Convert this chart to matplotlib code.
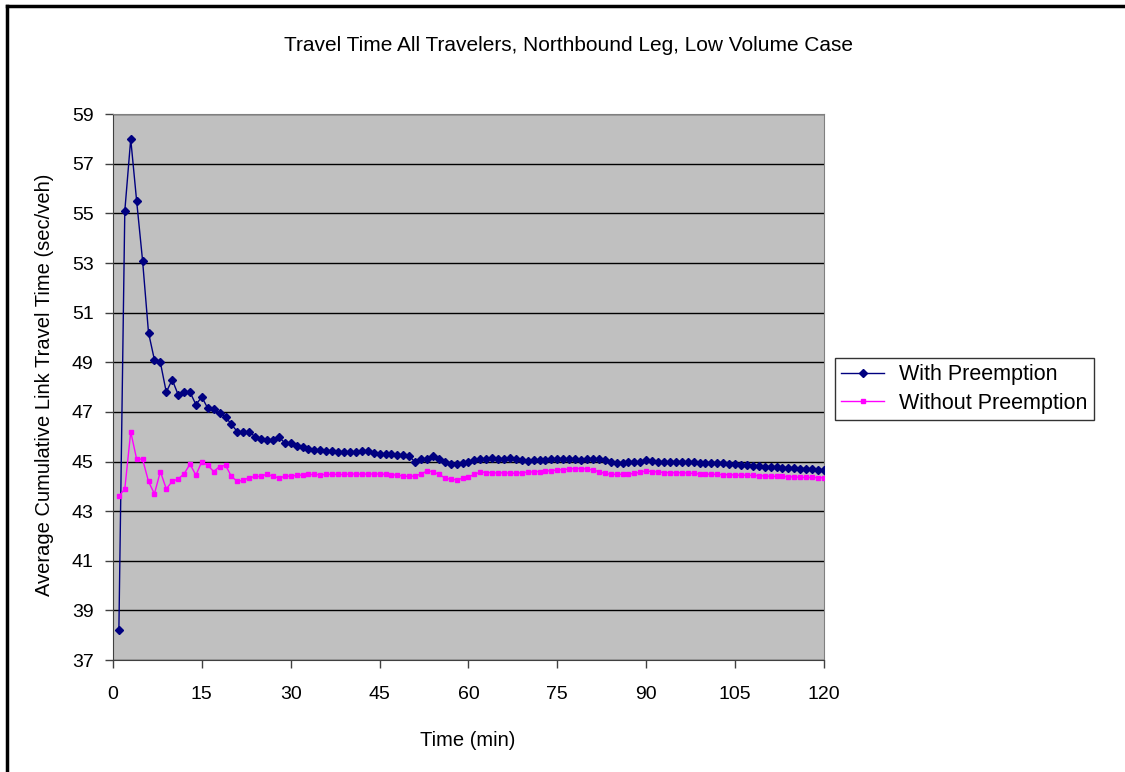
import matplotlib
matplotlib.use("Agg")
import matplotlib.pyplot as plt
from matplotlib.lines import Line2D

plt.rcParams['font.family'] = ['Liberation Sans', 'DejaVu Sans']

minutes = list(range(1, 121))

with_preemption = [
    38.2, 55.1, 58.0, 55.5, 53.1, 50.2, 49.1, 49.0, 47.8, 48.3,
    47.7, 47.8, 47.8, 47.3, 47.6, 47.15, 47.1, 46.95, 46.8, 46.5,
    46.2, 46.2, 46.2, 46.0, 45.9, 45.85, 45.85, 46.0, 45.75, 45.75,
    45.62, 45.58, 45.5, 45.46, 45.45, 45.43, 45.42, 45.4, 45.39, 45.38,
    45.4, 45.41, 45.42, 45.36, 45.31, 45.3, 45.29, 45.28, 45.25, 45.22,
    44.98, 45.1, 45.12, 45.22, 45.1, 45.0, 44.92, 44.9, 44.95, 44.98,
    45.05, 45.12, 45.1, 45.13, 45.12, 45.1, 45.14, 45.1, 45.06, 45.04,
    45.05, 45.06, 45.08, 45.1, 45.09, 45.1, 45.12, 45.1, 45.08, 45.1,
    45.11, 45.1, 45.06, 44.98, 44.93, 44.95, 44.97, 44.98, 45.0, 45.06,
    45.02, 45.0, 44.99, 45.0, 45.0, 45.0, 44.98, 44.97, 44.96, 44.96,
    44.95, 44.96, 44.93, 44.9, 44.9, 44.88, 44.86, 44.84, 44.82, 44.8,
    44.8, 44.78, 44.76, 44.76, 44.74, 44.72, 44.72, 44.7, 44.68, 44.66,
]

without_preemption = [
    43.6, 43.9, 46.2, 45.1, 45.1, 44.2, 43.7, 44.6, 43.9, 44.2,
    44.3, 44.5, 44.9, 44.45, 45.0, 44.85, 44.6, 44.8, 44.85, 44.4,
    44.2, 44.25, 44.35, 44.4, 44.4, 44.5, 44.4, 44.35, 44.4, 44.42,
    44.44, 44.46, 44.48, 44.48, 44.47, 44.48, 44.49, 44.48, 44.48, 44.5,
    44.5, 44.49, 44.5, 44.5, 44.5, 44.49, 44.47, 44.45, 44.42, 44.4,
    44.42, 44.5, 44.62, 44.6, 44.48, 44.35, 44.28, 44.27, 44.32, 44.38,
    44.48, 44.58, 44.56, 44.55, 44.54, 44.55, 44.53, 44.53, 44.55, 44.57,
    44.59, 44.6, 44.62, 44.63, 44.66, 44.68, 44.7, 44.72, 44.72, 44.7,
    44.66, 44.6, 44.52, 44.49, 44.48, 44.49, 44.5, 44.52, 44.58, 44.62,
    44.6, 44.58, 44.56, 44.55, 44.55, 44.55, 44.54, 44.52, 44.5, 44.5,
    44.49, 44.48, 44.47, 44.47, 44.46, 44.45, 44.45, 44.44, 44.43, 44.42,
    44.41, 44.4, 44.4, 44.39, 44.38, 44.37, 44.36, 44.36, 44.35, 44.35,
]

x_ticks = [0, 15, 30, 45, 60, 75, 90, 105, 120]
y_ticks = [37, 39, 41, 43, 45, 47, 49, 51, 53, 55, 57, 59]

fig = plt.figure(figsize=(11.25, 7.72), dpi=100)
ax = fig.add_axes([0.1004, 0.145, 0.632, 0.707])
ax.set_facecolor('#c0c0c0')

ax.plot(minutes, with_preemption, color='#000080', lw=1, marker='D',
        markersize=4, label='With Preemption', zorder=3)
ax.plot(minutes, without_preemption, color='#ff00ff', lw=1, marker='s',
        markersize=3.5, label='Without Preemption', zorder=3)

ax.set_xlim(0, 120)
ax.set_ylim(37, 59)
ax.set_xticks(x_ticks)
ax.set_yticks(y_ticks)
ax.yaxis.grid(True, color='black', lw=1)
ax.set_axisbelow(True)
ax.tick_params(axis='both', direction='out', length=6, width=1,
               colors='#404040', labelcolor='black', labelsize=14)
ax.tick_params(axis='x', pad=13)
ax.tick_params(axis='y', pad=8)
for s in ['top', 'right']:
    ax.spines[s].set_color('#808080')
for s in ['left', 'bottom']:
    ax.spines[s].set_color('#404040')

fig.text(0.505, 0.941, 'Travel Time All Travelers, Northbound Leg, Low Volume Case',
         ha='center', va='center', fontsize=15)
fig.text(0.416, 0.041, 'Time (min)', ha='center', va='center', fontsize=14.5)
fig.text(0.04, 0.501, 'Average Cumulative Link Travel Time (sec/veh)',
         ha='center', va='center', rotation=90, fontsize=14.5)

leg = ax.legend(loc='center left', bbox_to_anchor=(0.742, 0.496),
                bbox_transform=fig.transFigure, frameon=True, fancybox=False,
                fontsize=15.5, handlelength=2.0, handletextpad=0.7,
                borderpad=0.3, labelspacing=0.35, borderaxespad=0)
leg.get_frame().set_edgecolor('black')
leg.get_frame().set_linewidth(1)

# outer border (only top and left are visible in the source)
fig.add_artist(Line2D([6.5 / 1125, 1], [1 - 5.5 / 772, 1 - 5.5 / 772],
                      transform=fig.transFigure, color='black', lw=2.5))
fig.add_artist(Line2D([6.5 / 1125, 6.5 / 1125], [0, 1 - 5.5 / 772],
                      transform=fig.transFigure, color='black', lw=2.5))

fig.savefig('out.png', dpi=100)
